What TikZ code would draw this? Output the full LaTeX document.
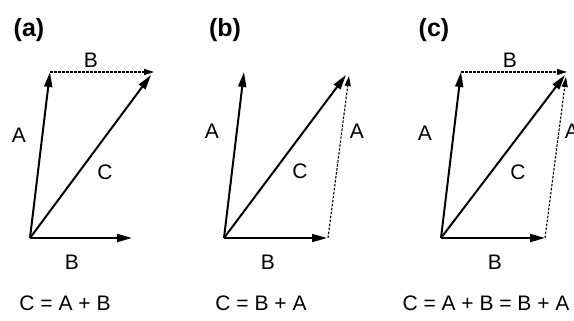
\documentclass[tikz,border=0pt]{standalone}
\usepackage{fontspec}
\setmainfont{Liberation Sans}
\usetikzlibrary{arrows.meta}
\tikzset{
  vec/.style={-{Triangle[length=15pt,width=8pt]},line width=2pt,black},
  dvec/.style={-{Triangle[length=10pt,width=6pt]},line width=1.1pt,black,dash pattern=on 2.5pt off 1.5pt},
  lab/.style={font=\fontsize{21}{24}\selectfont,inner sep=0pt},
  tag/.style={font=\fontsize{25}{28}\selectfont\bfseries,inner sep=0pt},
}
\begin{document}
\begin{tikzpicture}[x=1pt,y=-1pt]
  \useasboundingbox (0,0) rectangle (574,321);
  % (a)
  \coordinate (aO) at (30,238); \coordinate (aB) at (132,238);
  \coordinate (aA) at (50,72); \coordinate (aC) at (151,75);
  \coordinate (aD) at (154,72);
  \draw[vec] (aO)--(aA); \draw[vec] (aO)--(aB); \draw[vec] (aO)--(aC);
  \draw[dvec] (aA)--(aD);
  \node[tag](ta) at (29,30){(a)};
  \node[lab](aBt) at (91,60){B}; \node[lab](aAl) at (19,135){A};
  \node[lab](aCl) at (105,172){C}; \node[lab](aBb) at (72,262){B};
  \node[lab](aeq) at (65,303){C = A + B};
  % (b)
  \coordinate (bO) at (224,238); \coordinate (bB) at (327,238);
  \coordinate (bA) at (244,72); \coordinate (bC) at (346,75);
  \coordinate (bS) at (328,238); \coordinate (bD) at (349,76);
  \draw[vec] (bO)--(bA); \draw[vec] (bO)--(bB); \draw[vec] (bO)--(bC);
  \draw[dvec] (bS)--(bD);
  \node[tag](tb) at (225,30){(b)};
  \node[lab](bAl) at (212,131){A}; \node[lab](bAr) at (357,131){A};
  \node[lab](bCl) at (300,171){C}; \node[lab](bBb) at (268,262){B};
  \node[lab](beq) at (261,303){C = B + A};
  % (c)
  \coordinate (cO) at (441,238); \coordinate (cB) at (545,238);
  \coordinate (cA) at (461,72); \coordinate (cC) at (565,75);
  \coordinate (cD) at (567,72);
  \coordinate (cS) at (545,238); \coordinate (cE) at (566,77);
  \draw[vec] (cO)--(cA); \draw[vec] (cO)--(cB); \draw[vec] (cO)--(cC);
  \draw[dvec] (cA)--(cD); \draw[dvec] (cS)--(cE);
  \node[tag](tc) at (434,30){(c)};
  \node[lab](cBt) at (510,60){B}; \node[lab](cAl) at (425,133){A};
  \node[lab](cAr) at (572,131){A};
  \node[lab](cCl) at (518,172){C}; \node[lab](cBb) at (495,262){B};
  \node[lab](ceq) at (486,303){C = A + B = B + A};
\end{tikzpicture}
\end{document}
